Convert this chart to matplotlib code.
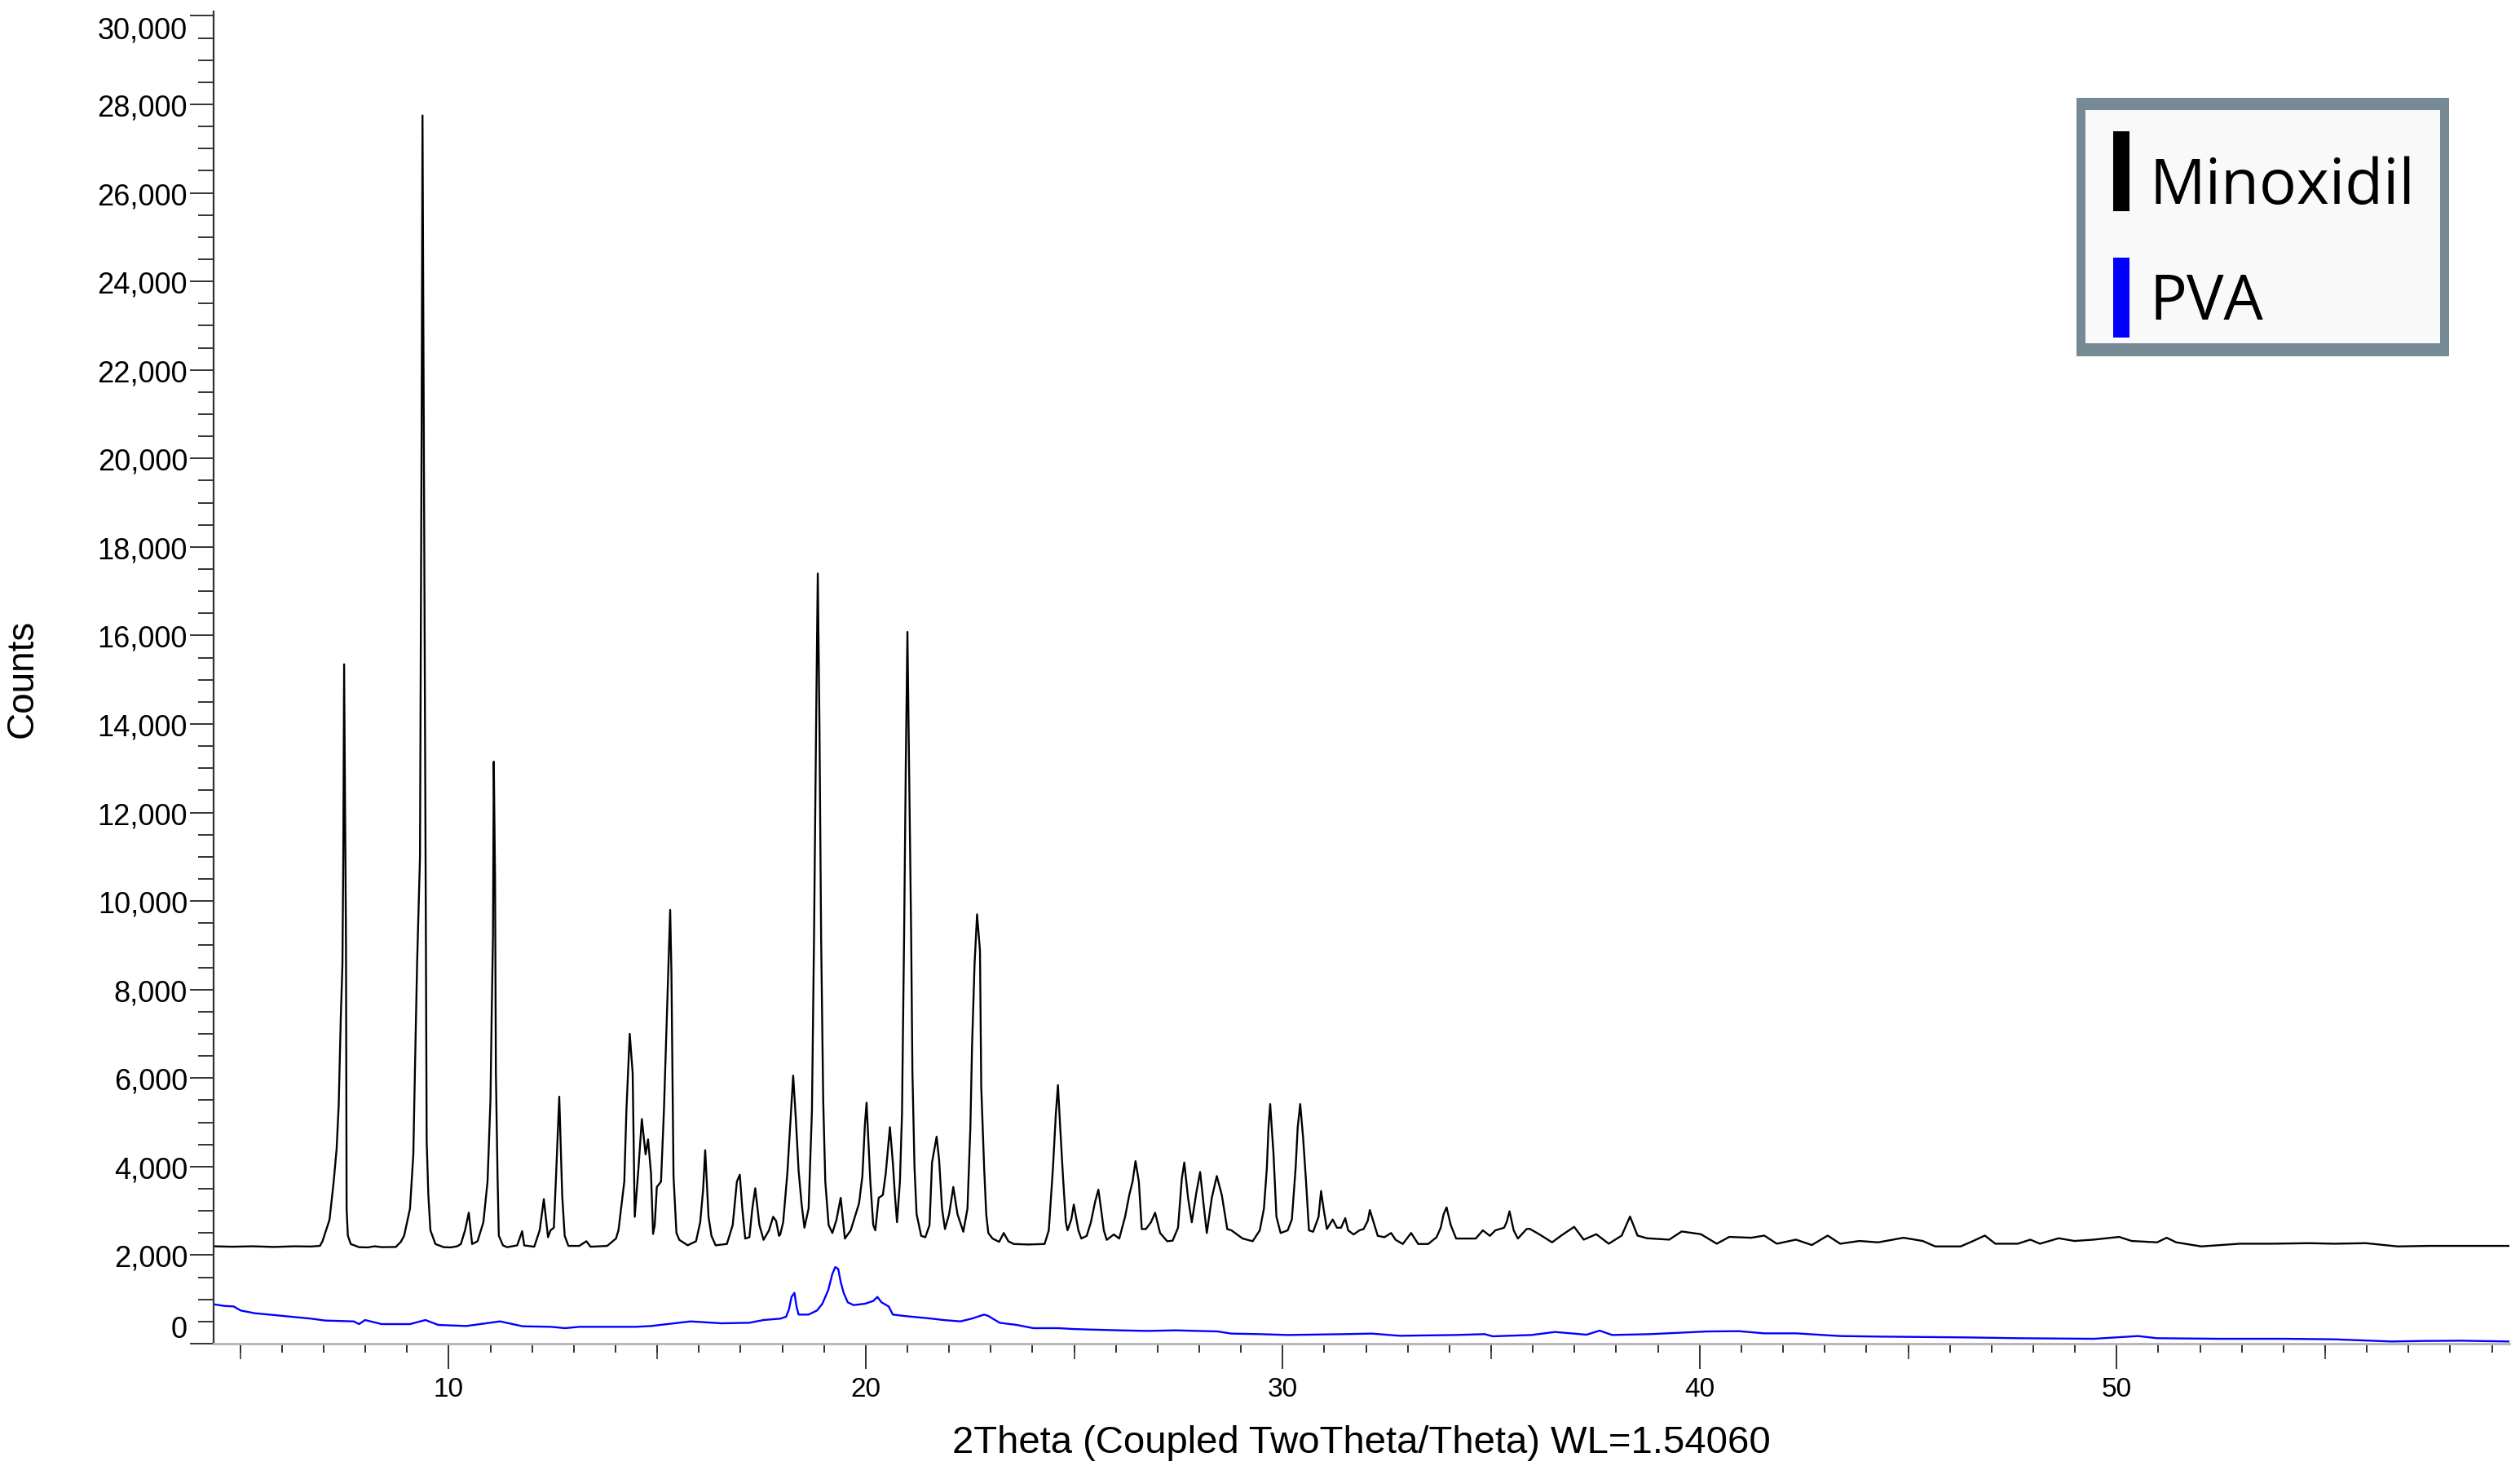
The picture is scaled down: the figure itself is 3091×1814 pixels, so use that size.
import matplotlib
matplotlib.use("Agg")
import matplotlib.pyplot as plt
from matplotlib.patches import Rectangle
from matplotlib.ticker import FuncFormatter, MultipleLocator

plt.rcParams['font.family'] = ['Liberation Sans', 'DejaVu Sans']

# traced points (2theta, counts)
minoxidil = [
    (4.36, 2200), (4.8, 2190), (5.3, 2200), (5.8, 2185), (6.3, 2200), (6.7, 2195),
    (6.91, 2210), (6.97, 2310), (7.14, 2800), (7.24, 3660), (7.31, 4400), (7.36, 5380),
    (7.41, 7350), (7.45, 8570), (7.47, 11000), (7.49, 15350), (7.51, 12500), (7.535, 9000),
    (7.55, 3050), (7.58, 2440), (7.65, 2250), (7.85, 2180), (8.06, 2175), (8.22, 2200),
    (8.4, 2180), (8.73, 2185), (8.85, 2300), (8.93, 2440), (9.07, 3050), (9.15, 4280),
    (9.19, 6240), (9.24, 8570), (9.31, 11000), (9.35, 21000), (9.37, 27750), (9.40, 21000),
    (9.45, 9500), (9.47, 4580), (9.51, 3360), (9.56, 2560), (9.68, 2250), (9.88, 2180),
    (10.05, 2175), (10.2, 2200), (10.29, 2250), (10.39, 2560), (10.48, 2960), (10.56, 2250),
    (10.69, 2314), (10.83, 2743), (10.93, 3664), (11.00, 5505), (11.03, 7470), (11.06, 9190),
    (11.08, 13150), (11.11, 10500), (11.13, 6120), (11.17, 3790), (11.20, 2440), (11.30, 2220),
    (11.40, 2180), (11.64, 2220), (11.76, 2540), (11.81, 2220), (12.05, 2190), (12.18, 2560),
    (12.28, 3265), (12.38, 2405), (12.44, 2560), (12.52, 2620), (12.57, 3725), (12.65, 5580),
    (12.72, 3357), (12.78, 2436), (12.87, 2209), (13.13, 2209), (13.30, 2314), (13.40, 2190),
    (13.80, 2209), (14.01, 2375), (14.07, 2560), (14.21, 3664), (14.26, 5260), (14.34, 7000),
    (14.41, 6118), (14.46, 2866), (14.55, 3970), (14.63, 5075), (14.72, 4278), (14.78, 4615),
    (14.85, 3848), (14.90, 2480), (14.94, 2680), (14.99, 3540), (15.09, 3660), (15.16, 5260),
    (15.22, 7100), (15.27, 8600), (15.31, 9800), (15.34, 8390), (15.39, 3787), (15.46, 2500),
    (15.53, 2345), (15.73, 2222), (15.93, 2314), (16.03, 2743), (16.10, 3480), (16.15, 4370),
    (16.23, 2866), (16.30, 2436), (16.40, 2222), (16.67, 2252), (16.81, 2680), (16.91, 3664),
    (16.98, 3817), (17.04, 3052), (17.11, 2375), (17.21, 2405), (17.28, 3052), (17.35, 3510),
    (17.45, 2680), (17.55, 2345), (17.68, 2560), (17.78, 2866), (17.85, 2774), (17.92, 2436),
    (17.95, 2467), (18.02, 2743), (18.12, 3848), (18.19, 4953), (18.26, 6057), (18.32, 5137),
    (18.39, 3910), (18.46, 3173), (18.53, 2620), (18.63, 3052), (18.71, 5260), (18.76, 9187),
    (18.81, 14000), (18.85, 17400), (18.89, 14000), (18.93, 9187), (18.98, 5505), (19.03, 3664),
    (19.11, 2680), (19.20, 2500), (19.30, 2805), (19.40, 3295), (19.50, 2375), (19.64, 2560),
    (19.84, 3173), (19.92, 3787), (19.98, 4953), (20.02, 5443), (20.06, 4646), (20.11, 3664),
    (20.18, 2680), (20.23, 2560), (20.31, 3295), (20.41, 3357), (20.48, 3848), (20.58, 4891),
    (20.65, 4093), (20.70, 3357), (20.75, 2743), (20.82, 3664), (20.87, 5198), (20.92, 9187),
    (20.96, 13000), (21.00, 16080), (21.04, 13000), (21.09, 9187), (21.12, 6118), (21.17, 3970),
    (21.22, 2927), (21.33, 2436), (21.43, 2405), (21.53, 2680), (21.59, 4093), (21.70, 4676),
    (21.76, 4155), (21.83, 3052), (21.90, 2590), (22.00, 2927), (22.10, 3540), (22.20, 2927),
    (22.34, 2528), (22.44, 3052), (22.51, 4891), (22.55, 6732), (22.61, 8573), (22.67, 9700),
    (22.74, 8880), (22.77, 5812), (22.84, 3970), (22.89, 2927), (22.94, 2500), (23.04, 2375),
    (23.20, 2300), (23.31, 2500), (23.42, 2314), (23.55, 2252), (23.9, 2240), (24.29, 2252),
    (24.39, 2560), (24.49, 3970), (24.56, 5198), (24.61, 5842), (24.66, 4953), (24.73, 3787),
    (24.80, 2743), (24.84, 2560), (24.93, 2805), (24.99, 3142), (25.10, 2560), (25.17, 2375),
    (25.30, 2436), (25.40, 2743), (25.50, 3200), (25.58, 3480), (25.65, 3000), (25.71, 2560),
    (25.78, 2345), (25.95, 2467), (26.08, 2375), (26.22, 2866), (26.32, 3357), (26.40, 3664),
    (26.47, 4124), (26.55, 3664), (26.62, 2590), (26.72, 2590), (26.84, 2743), (26.94, 2958),
    (27.06, 2500), (27.23, 2314), (27.36, 2326), (27.49, 2620), (27.58, 3725), (27.64, 4093),
    (27.73, 3295), (27.82, 2743), (27.93, 3418), (28.02, 3878), (28.10, 3173), (28.18, 2500),
    (28.30, 3295), (28.42, 3787), (28.54, 3357), (28.67, 2590), (28.77, 2560), (29.04, 2375),
    (29.28, 2314), (29.45, 2560), (29.55, 3052), (29.62, 3970), (29.66, 4891), (29.70, 5413),
    (29.78, 4278), (29.85, 2866), (29.95, 2500), (30.12, 2560), (30.22, 2805), (30.31, 3970),
    (30.36, 4891), (30.42, 5413), (30.49, 4646), (30.56, 3664), (30.63, 2560), (30.73, 2528),
    (30.86, 2866), (30.92, 3449), (30.98, 3052), (31.06, 2590), (31.20, 2805), (31.30, 2620),
    (31.40, 2620), (31.50, 2835), (31.57, 2560), (31.70, 2467), (31.84, 2560), (31.94, 2590),
    (32.04, 2774), (32.09, 3019), (32.18, 2743), (32.28, 2436), (32.44, 2405), (32.60, 2500),
    (32.71, 2345), (32.88, 2252), (33.08, 2500), (33.25, 2252), (33.49, 2252), (33.69, 2405),
    (33.79, 2620), (33.86, 2927), (33.93, 3080), (34.03, 2680), (34.16, 2375), (34.63, 2375),
    (34.80, 2560), (34.97, 2436), (35.10, 2560), (35.31, 2620), (35.37, 2743), (35.44, 2990),
    (35.54, 2560), (35.64, 2375), (35.85, 2590), (35.92, 2596), (36.15, 2473), (36.46, 2289),
    (36.68, 2442), (36.99, 2639), (37.22, 2350), (37.52, 2473), (37.82, 2258), (38.13, 2442),
    (38.33, 2872), (38.51, 2442), (38.74, 2381), (39.27, 2350), (39.57, 2535), (40.03, 2473),
    (40.41, 2258), (40.71, 2412), (41.24, 2393), (41.55, 2442), (41.85, 2258), (42.31, 2350),
    (42.69, 2228), (43.07, 2442), (43.37, 2258), (43.83, 2320), (44.28, 2289), (44.89, 2393),
    (45.35, 2320), (45.65, 2197), (46.26, 2197), (46.56, 2320), (46.84, 2442), (47.09, 2258),
    (47.63, 2258), (47.93, 2350), (48.16, 2258), (48.61, 2381), (48.99, 2320), (49.45, 2350),
    (50.06, 2412), (50.36, 2320), (50.97, 2289), (51.20, 2393), (51.43, 2289), (52.03, 2197),
    (52.95, 2258), (53.71, 2258), (54.62, 2270), (55.22, 2258), (55.98, 2270), (56.74, 2197),
    (57.50, 2209), (59.42, 2209),
]

pva = [
    (4.36, 890), (4.61, 853), (4.84, 841), (5.01, 749), (5.35, 687), (5.69, 657),
    (6.03, 626), (6.37, 595), (6.70, 565), (7.04, 522), (7.72, 503), (7.85, 442),
    (7.99, 534), (8.39, 442), (9.07, 442), (9.44, 534), (9.75, 423), (10.42, 399),
    (11.23, 503), (11.77, 393), (12.45, 380), (12.79, 350), (13.13, 380), (14.48, 380),
    (14.85, 399), (15.80, 503), (16.54, 460), (17.21, 472), (17.55, 534), (17.95, 565),
    (18.09, 608), (18.16, 779), (18.22, 1056), (18.29, 1148), (18.34, 841), (18.39, 657),
    (18.63, 657), (18.83, 749), (18.96, 902), (19.10, 1209), (19.20, 1577), (19.27, 1731),
    (19.34, 1688), (19.40, 1393), (19.47, 1148), (19.57, 933), (19.71, 871), (19.98, 902),
    (20.18, 964), (20.28, 1056), (20.38, 933), (20.55, 841), (20.65, 657), (20.92, 626),
    (21.26, 595), (21.59, 565), (21.86, 534), (22.27, 503), (22.54, 565), (22.84, 657),
    (22.94, 626), (23.21, 472), (23.62, 423), (24.02, 350), (24.63, 350), (24.97, 331),
    (25.37, 319), (26.08, 301), (26.75, 288), (27.43, 301), (28.44, 276), (28.77, 227),
    (29.45, 215), (30.12, 196), (31.47, 215), (32.14, 227), (32.81, 178), (34.16, 196),
    (34.84, 215), (35.04, 166), (35.97, 196), (36.53, 264), (37.29, 202), (37.60, 295),
    (37.90, 196), (38.81, 215), (40.18, 276), (40.94, 282), (41.55, 233), (42.31, 233),
    (43.37, 172), (44.28, 160), (46.41, 141), (47.63, 123), (49.45, 110), (50.51, 172),
    (50.97, 123), (52.49, 110), (54.01, 110), (55.22, 98), (56.59, 49), (57.35, 61),
    (58.26, 67), (59.42, 49),
]

series_names = ['Minoxidil', 'PVA']
series_colors = ['#000000', '#0000FF']

W, H = 3091, 1815


def fx(px):
    return px / W


def fy(py):
    return 1 - py / H


fig = plt.figure(figsize=(W / 100, H / 100), dpi=100)
ax = fig.add_axes([fx(262), fy(1649), fx(3078) - fx(262), fy(15) - fy(1649)])

for data, color in zip([minoxidil, pva], series_colors):
    xs, ys = zip(*data)
    ax.plot(xs, ys, color=color, lw=1.7)

ax.set_xlim(4.36, 59.42)
ax.set_ylim(0, 30100)

for side in ['top', 'right']:
    ax.spines[side].set_visible(False)
ax.spines['left'].set_color('#333333')
ax.spines['left'].set_linewidth(1.6)
ax.spines['bottom'].set_color('#b4b4b4')
ax.spines['bottom'].set_linewidth(2.0)

ax.set_yticks(range(0, 30001, 2000))
ax.yaxis.set_minor_locator(MultipleLocator(500))
ax.yaxis.set_major_formatter(FuncFormatter(lambda v, p: f'{int(v):,}'))
ax.tick_params(axis='y', which='major', length=21, width=1.4, color='#333333',
               labelsize=26, pad=2)
ax.tick_params(axis='y', which='minor', length=13.5, width=1.4, color='#333333')

ax.set_xticks([10, 20, 30, 40, 50])
ax.xaxis.set_minor_locator(MultipleLocator(1))
ax.tick_params(axis='x', which='major', length=22, width=1.4, color='#333333',
               labelsize=24, pad=7)
ax.tick_params(axis='x', which='minor', length=8, width=1.4, color='#333333')

# medium ticks at the fives
sec = ax.secondary_xaxis('bottom')
sec.set_xticks([5, 15, 25, 35, 45, 55], labels=[])
sec.tick_params(axis='x', length=14, width=1.4, color='#555555')
sec.spines['bottom'].set_visible(False)

ax.set_xlabel('2Theta (Coupled TwoTheta/Theta) WL=1.54060', fontsize=34)
ax.xaxis.set_label_coords(0.5, -0.0739)
ax.xaxis.label.set_va('center')
ax.set_ylabel('Counts', fontsize=33)
ax.yaxis.set_label_coords(-0.0831, 0.5)
ax.yaxis.label.set_va('center')

ylabels = ax.get_yticklabels()
ylabels[0].set_va('bottom')
ylabels[-1].set_va('top')

# legend box
fig.add_artist(Rectangle((fx(2547), fy(438)), fx(3004) - fx(2547), fy(121) - fy(438),
                         transform=fig.transFigure, facecolor='#768a95', edgecolor='none'))
fig.add_artist(Rectangle((fx(2558), fy(422)), fx(2993) - fx(2558), fy(136) - fy(422),
                         transform=fig.transFigure, facecolor='#f9f9f9', edgecolor='none'))
for i, (name, color) in enumerate(zip(series_names, series_colors)):
    top = 162 + i * 155
    fig.add_artist(Rectangle((fx(2592), fy(top + 98)), fx(2612) - fx(2592), fy(top) - fy(top + 98),
                             transform=fig.transFigure, facecolor=color, edgecolor='none'))
    fig.text(fx(2637), fy(250 + i * 142), name, fontsize=55, family=['Open Sans', 'DejaVu Sans'],
             va='baseline', ha='left')

fig.savefig('out.png', dpi=100, facecolor='white')
